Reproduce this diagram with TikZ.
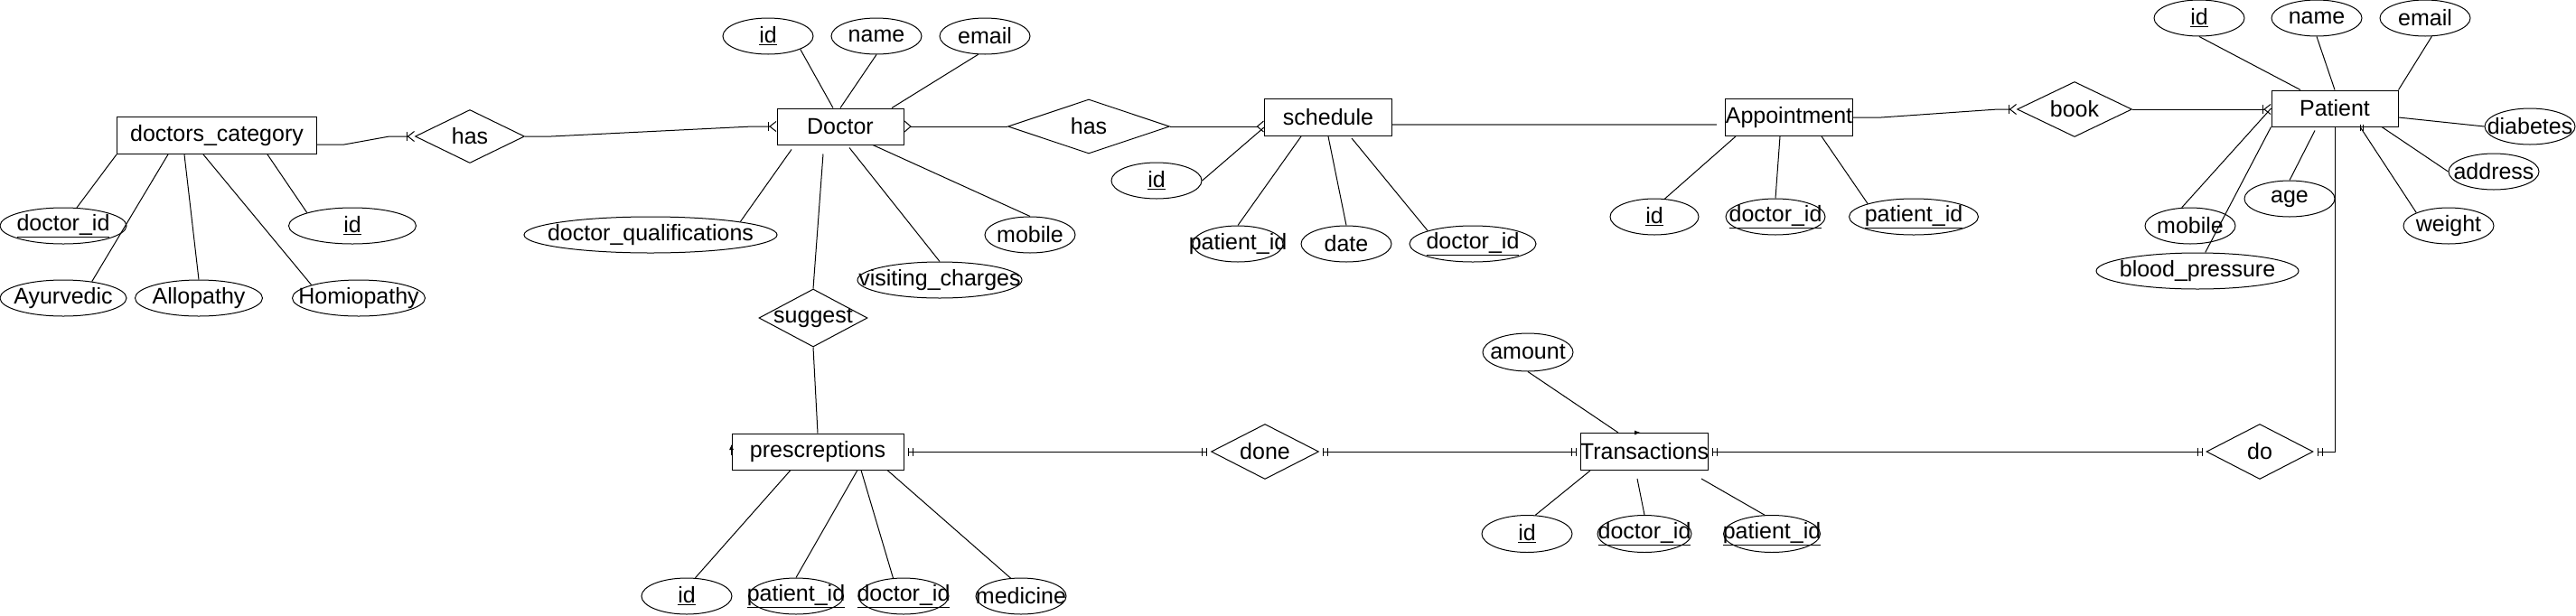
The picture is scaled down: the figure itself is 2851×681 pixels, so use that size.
\documentclass[tikz,border=0pt]{standalone}
\usepackage{fontspec}
\setmainfont{Liberation Sans}
\usetikzlibrary{arrows.meta,shapes.geometric}

\begin{document}
\begin{tikzpicture}[
  x=1pt, y=-1pt,
  font=\fontsize{25}{30}\selectfont,
  line width=1pt,
  flat/.style={inner sep=0pt, execute at begin node={\hbox to 0pt\bgroup\hss}, execute at end node={\hss\egroup}},
  entity/.style={draw, flat, minimum width=140pt, minimum height=40pt},
  attr/.style={draw, ellipse, flat, minimum width=100pt, minimum height=40pt},
  rel/.style={draw, diamond, flat, minimum width=120pt, minimum height=61pt},
  many/.style={-{Straight Barb[reversed,length=7pt,width=12pt]}},
  onemany/.style={-{Bar[width=10pt,sep=0pt]Straight Barb[reversed,length=7pt,width=11pt]}},
  oneone/.style={{Bar[width=9pt,sep=4pt]Bar[width=9pt,sep=4pt]}-{Bar[width=9pt,sep=4pt]Bar[width=9pt,sep=4pt]}}
]
\useasboundingbox (0,0) rectangle (2851,681);

% entities
\node[entity, minimum width=221pt, minimum height=41pt] (dcat) at (240,150) {doctors\_category};
\node[entity] (doc) at (930,140) {Doctor};
\node[entity, minimum width=141pt, minimum height=41pt] (sched) at (1470,130) {schedule};
\node[entity, minimum width=141pt, minimum height=41pt] (appt) at (1980,130) {Appointment};
\node[entity] (pat) at (2584,120) {Patient};
\node[entity, minimum width=190pt] (presc) at (905,500) {prescreptions};
\node[entity, minimum width=141pt, minimum height=41pt] (trans) at (1820,500) {Transactions};

% relationships
\node[rel, minimum width=121pt, minimum height=59pt] (has1) at (520,151) {has};
\node[rel, minimum width=179pt, minimum height=60pt] (has2) at (1205,140) {has};
\node[rel, minimum height=64pt] (sug) at (900,352) {suggest};
\node[rel, minimum width=127pt] (book) at (2296,121) {book};
\node[rel, minimum width=119pt] (done) at (1400,500) {done};
\node[rel, minimum width=118pt] (do) at (2501,500) {do};

% doctors_category attributes
\node[attr, minimum width=140pt] (dcdid) at (70,250) {\underline{doctor\_id}};
\node[attr, minimum width=141pt] (dcid) at (390,250) {\underline{id}};
\node[attr, minimum width=140pt] (ayur) at (70,330) {Ayurvedic};
\node[attr, minimum width=141pt] (allo) at (220,330) {Allopathy};
\node[attr, minimum width=147pt] (homi) at (397,330) {Homiopathy};

% Doctor attributes
\node[attr] (did) at (850,40) {\underline{id}};
\node[attr] (dname) at (970,40) {name};
\node[attr] (demail) at (1090,40) {email};
\node[attr, minimum width=280pt] (dqual) at (720,260) {doctor\_qualifications};
\node[attr] (dmob) at (1140,260) {mobile};
\node[attr, minimum width=182pt] (dvisit) at (1040,310) {visiting\_charges};

% schedule attributes
\node[attr] (sid) at (1280,200) {\underline{id}};
\node[attr] (spid) at (1370,270) {patient\_id};
\node[attr] (sdate) at (1490,270) {date};
\node[attr, minimum width=140pt] (sdid) at (1630,270) {\underline{doctor\_id}};

% Appointment attributes
\node[attr, minimum width=98pt] (aid) at (1831,240) {\underline{id}};
\node[attr, minimum width=110pt] (adid) at (1965,240) {\underline{doctor\_id}};
\node[attr, minimum width=143pt] (apid) at (2118,240) {\underline{patient\_id}};

% Patient attributes
\node[attr] (pid) at (2434,20) {\underline{id}};
\node[attr] (pname) at (2564,20) {name};
\node[attr] (pemail) at (2684,20) {email};
\node[attr] (pdiab) at (2800,140) {diabetes};
\node[attr] (paddr) at (2760,190) {address};
\node[attr] (pweight) at (2710,250) {weight};
\node[attr] (page) at (2534,220) {age};
\node[attr] (pmob) at (2424,250) {mobile};
\node[attr, minimum width=224pt] (pbp) at (2432,300) {blood\_pressure};

% prescreptions attributes
\node[attr] (rid) at (760,660) {\underline{id}};
\node[attr, minimum width=105pt] (rpid) at (881,660) {\underline{patient\_id}};
\node[attr] (rdid) at (1000,660) {\underline{doctor\_id}};
\node[attr] (rmed) at (1130,660) {medicine};

% Transactions attributes
\node[attr, minimum height=42pt] (tamt) at (1691,390) {amount};
\node[attr, minimum height=41pt] (tid) at (1690,591) {\underline{id}};
\node[attr, minimum width=104pt, minimum height=41pt] (tdid) at (1820,591) {\underline{doctor\_id}};
\node[attr, minimum width=107pt, minimum height=41pt] (tpid) at (1961,591) {\underline{patient\_id}};

% attribute links
\draw (dcat.south west) -- (dcdid)
      ([xshift=-54]dcat.south) -- (ayur.30)
      ([xshift=-36]dcat.south) -- (allo.north)
      ([xshift=-15]dcat.south) -- (homi.north west)
      ([xshift=56]dcat.south) -- (dcid.north west);
\draw (did.south east) -- ([xshift=-8]doc.north)
      (dname.south) -- (doc.north)
      (demail.250) -- ([xshift=57]doc.north)
      ([xshift=-54,yshift=-5]doc.south) -- (dqual.north east)
      ([xshift=10,yshift=-3]doc.south) -- (dvisit.north)
      ([xshift=36]doc.south) -- (dmob.north);
\draw (sid.east) -- ([yshift=-11]sched.west)
      ([xshift=-30]sched.south) -- (spid.north)
      (sched.south) -- (sdate.north)
      ([xshift=26,yshift=-2]sched.south) -- (sdid.north west);
\draw ([xshift=-59]appt.south) -- (aid.60)
      ([xshift=-10]appt.south) -- (adid.north)
      ([xshift=36]appt.south) -- (apid.north west);
\draw (pid.south) -- ([xshift=-38]pat.north)
      (pname.south) -- (pat.north)
      (pemail.290) -- (pat.north east)
      ([yshift=-10]pat.east) -- (pdiab.west)
      ([xshift=52]pat.south) -- (paddr.west)
      ([xshift=28]pat.south) -- (pweight.north west)
      ([xshift=-22,yshift=-4]pat.south) -- (page.north)
      (pat.west) -- (pmob.115)
      (pat.south west) -- (pbp.67);
\draw ([xshift=-30]presc.south) -- (rid.65)
      ([xshift=44]presc.south) -- (rpid.north)
      ([xshift=48]presc.south) -- (rdid.120)
      ([xshift=77]presc.south) -- (rmed.120);
\draw (tamt.south) -- ([xshift=-29]trans.north)
      ([xshift=-60]trans.south) -- (tid.66)
      ([xshift=-8,yshift=-9]trans.south) -- (tdid.north)
      ([xshift=63,yshift=-9]trans.south) -- (tpid.111);

% relationship links
\draw[onemany] ([yshift=-10]dcat.east) -- ++(30,0) -- ([xshift=-28]has1.west) -- (has1.west);
\draw[onemany] (has1.east) -- ++(29,0) -- ([xshift=-27]doc.west) -- (doc.west);
\draw[many] (has2.west) -- (doc.east);
\draw[many] (has2.east) -- (has2.east -| sched.west);
\draw[draw=black!55, line width=1.6pt] ([yshift=-8]sched.east) -- ([xshift=-9,yshift=-8]appt.west);
\draw[onemany] (appt.east) -- ++(31,0) -- ([xshift=-21]book.west) -- (book.west);
\draw[onemany] (book.east) -- (book.east -| pat.west);
\draw ([xshift=-19,yshift=-10]doc.south) -- (sug.north);
\draw (sug.south) -- (presc.north);
\draw[oneone] (presc.east) -- (done.west);
\draw[oneone] (done.east) -- (trans.west);
\draw[oneone] (trans.east) -- (do.west);
\draw[{Bar[width=9pt,sep=4pt]Bar[width=9pt,sep=4pt]}-] (do.east) -| (pat.south);

% stray marks
\draw[-{Latex[length=6pt,width=5pt]}] ([yshift=-4]presc.west) -- ([yshift=8]presc.west);
\draw[-{Latex[length=7pt,width=5pt]}] ([xshift=-14]trans.north) -- ([xshift=-4]trans.north);
\draw ([xshift=28,yshift=3]pat.south) -- ([xshift=28,yshift=-4]pat.south)
      ([xshift=31,yshift=3]pat.south) -- ([xshift=31,yshift=-4]pat.south);
\end{tikzpicture}
\end{document}
